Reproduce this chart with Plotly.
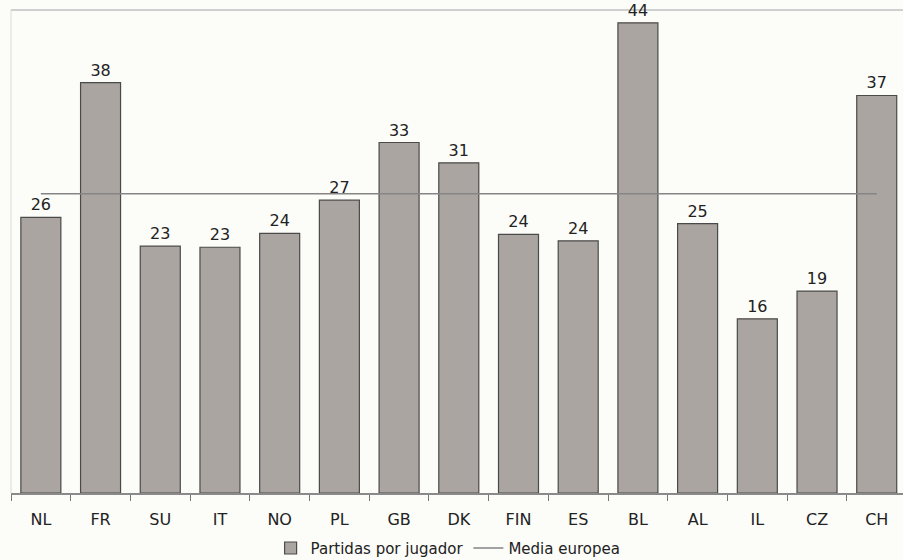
import plotly.graph_objects as go

# Países y partidas medias por jugador
paises = ["NL", "FR", "SU", "IT", "NO", "PL", "GB", "DK", "FIN", "ES", "BL", "AL", "IL", "CZ", "CH"]
partidas = [25.8, 38.4, 23.1, 23.0, 24.3, 27.4, 32.8, 30.9, 24.2, 23.6, 44.0, 25.2, 16.3, 18.9, 37.2]
media_europea = 28.0

FONT = "DejaVu Sans"
BG = "#fcfcf9"

fig = go.Figure()

fig.add_trace(go.Bar(
    x=paises,
    y=partidas,
    name="Partidas por jugador",
    marker=dict(color="#aaa5a1", line=dict(color="#4a4a4a", width=1.2)),
    text=partidas,
    texttemplate="%{y:.0f}",
    textposition="outside",
    textfont=dict(family=FONT, size=16, color="#222222"),
    cliponaxis=False,
))

fig.add_trace(go.Scatter(
    x=paises,
    y=[media_europea] * len(paises),
    mode="lines",
    name="Media europea",
    line=dict(color="#858585", width=1.5),
))

# light frame along the top and left of the plotting area
fig.add_shape(type="line", xref="paper", yref="paper", x0=0, x1=1, y0=1, y1=1,
              line=dict(color="#cfcfcf", width=2), layer="below")
fig.add_shape(type="line", xref="paper", yref="paper", x0=0, x1=0, y0=0, y1=1,
              line=dict(color="#dadada", width=1), layer="below")

fig.update_layout(
    width=903,
    height=560,
    margin=dict(l=11, r=0, t=10, b=67, autoexpand=False),
    paper_bgcolor=BG,
    plot_bgcolor=BG,
    bargap=0.33,
    showlegend=True,
    legend=dict(
        orientation="h",
        x=0.49, xanchor="center",
        yref="container",
        y=0.021, yanchor="middle",
        font=dict(family=FONT, size=15, color="#222222"),
        bgcolor="rgba(0,0,0,0)",
        itemwidth=30,
        tracegroupgap=0,
    ),
    xaxis=dict(
        type="category",
        range=[-0.5, 14.44],
        automargin=False,
        tickson="boundaries",
        ticks="outside",
        ticklen=6,
        tickcolor="#777777",
        ticklabelstandoff=11,
        showline=True,
        linecolor="#8a8a8a",
        linewidth=1.5,
        showgrid=False,
        tickfont=dict(family=FONT, size=16, color="#222222"),
    ),
    yaxis=dict(
        range=[0, 45.2],
        visible=False,
        showgrid=False,
        zeroline=False,
    ),
)

fig.write_html("out.html")
